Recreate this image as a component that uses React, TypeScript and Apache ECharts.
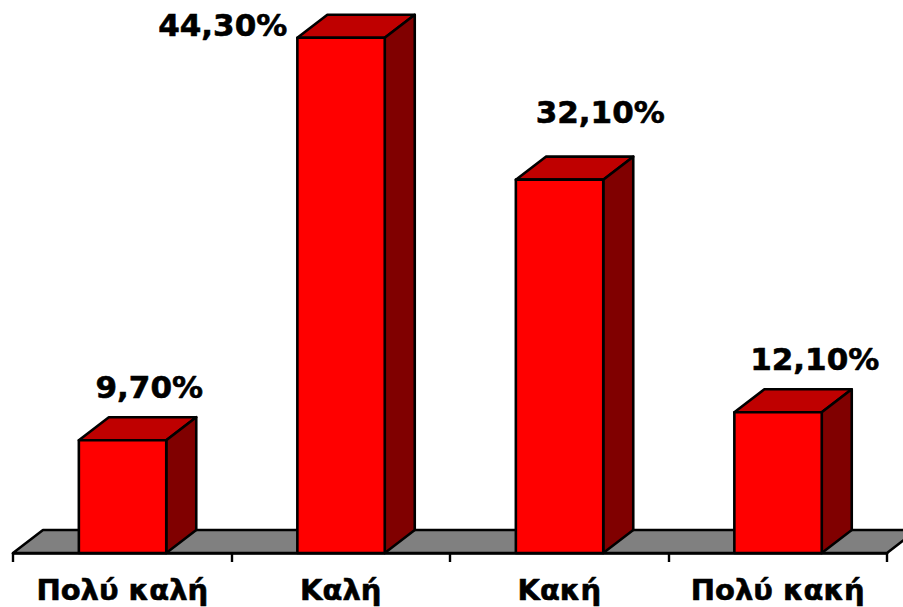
import React, { useEffect, useRef } from "react";
import * as echarts from "echarts";

const categories = ["Πολύ καλή", "Καλή", "Κακή", "Πολύ κακή"];
const values = [9.7, 44.3, 32.1, 12.1];
const valueLabels = ["9,70%", "44,30%", "32,10%", "12,10%"];

const FONT = '"DejaVu Sans", Verdana, sans-serif';
const DEPTH_X = 30;
const DEPTH_Y = 23;
const LINE = 2.6;
// label centre relative to the top-centre of each bar's front face
const LABEL_OFFSETS = [
  [27, -53],
  [-118, -13],
  [41, -68],
  [37, -53],
];

export default function App() {
  const ref = useRef<HTMLDivElement>(null);
  useEffect(() => {
    const chart = echarts.init(ref.current!, undefined, { renderer: "svg" });
    chart.setOption({
      animation: false,
      backgroundColor: "#ffffff",
      grid: { left: 13, right: 16, top: 18, bottom: 54 },
      xAxis: {
        type: "category",
        data: categories,
        boundaryGap: true,
        axisLine: { show: true, lineStyle: { color: "#000", width: LINE } },
        axisTick: { show: true, length: 9, alignWithLabel: false, lineStyle: { color: "#000", width: 2.4 } },
        axisLabel: {
          color: "#000",
          fontFamily: FONT,
          fontWeight: "bold",
          fontSize: 29,
          margin: 22,
          interval: 0,
          textBorderColor: "#000",
          textBorderWidth: 0.6,
        },
        z: 1,
      },
      yAxis: { type: "value", min: 0, max: 46, show: false, splitLine: { show: false } },
      series: [
        {
          type: "custom",
          z: 1,
          silent: true,
          clip: false,
          data: [[0, 0]],
          encode: { x: 0, y: 1 },
          renderItem: (params: any, api: any) => {
            const cs = params.coordSys;
            const x0 = cs.x;
            const x1 = cs.x + cs.width;
            const y = api.coord([0, 0])[1];
            return {
              type: "polygon",
              shape: {
                points: [
                  [x0, y],
                  [x0 + DEPTH_X, y - DEPTH_Y],
                  [x1 + DEPTH_X, y - DEPTH_Y],
                  [x1, y],
                ],
              },
              style: { fill: "#808080", stroke: "#000", lineWidth: LINE, lineJoin: "round" },
            };
          },
        },
        {
          type: "custom",
          z: 3,
          silent: true,
          clip: false,
          data: values.map((v, i) => [i, v]),
          encode: { x: 0, y: 1 },
          renderItem: (params: any, api: any) => {
            const i = api.value(0);
            const top = api.coord([i, api.value(1)]);
            const base = api.coord([i, 0]);
            const w = api.size([1, 0])[0] * 0.4;
            const l = top[0] - w / 2 + 0.3;
            const r = top[0] + w / 2 + 0.3;
            const t = top[1];
            const b = base[1];
            const stroke = { stroke: "#000", lineWidth: LINE, lineJoin: "round" };
            const off = LABEL_OFFSETS[params.dataIndex];
            return {
              type: "group",
              children: [
                {
                  type: "polygon",
                  shape: { points: [[l, t], [l + DEPTH_X, t - DEPTH_Y], [r + DEPTH_X, t - DEPTH_Y], [r, t]] },
                  style: { fill: "#BF0000", ...stroke },
                },
                {
                  type: "polygon",
                  shape: { points: [[r, t], [r + DEPTH_X, t - DEPTH_Y], [r + DEPTH_X, b - DEPTH_Y], [r, b]] },
                  style: { fill: "#800000", ...stroke },
                },
                {
                  type: "rect",
                  shape: { x: l, y: t, width: w, height: b - t },
                  style: { fill: "#FF0000", ...stroke },
                },
                {
                  type: "text",
                  style: {
                    text: valueLabels[params.dataIndex],
                    x: top[0] + off[0],
                    y: t + off[1],
                    align: "center",
                    verticalAlign: "middle",
                    fill: "#000",
                    stroke: "#000",
                    lineWidth: 0.6,
                    font: `bold 31px ${FONT}`,
                  },
                },
              ],
            };
          },
        },
      ],
    });
    return () => chart.dispose();
  }, []);
  return <div ref={ref} style={{ position: "absolute", left: 0, top: 0, width: 903, height: 607 }} />;
}
